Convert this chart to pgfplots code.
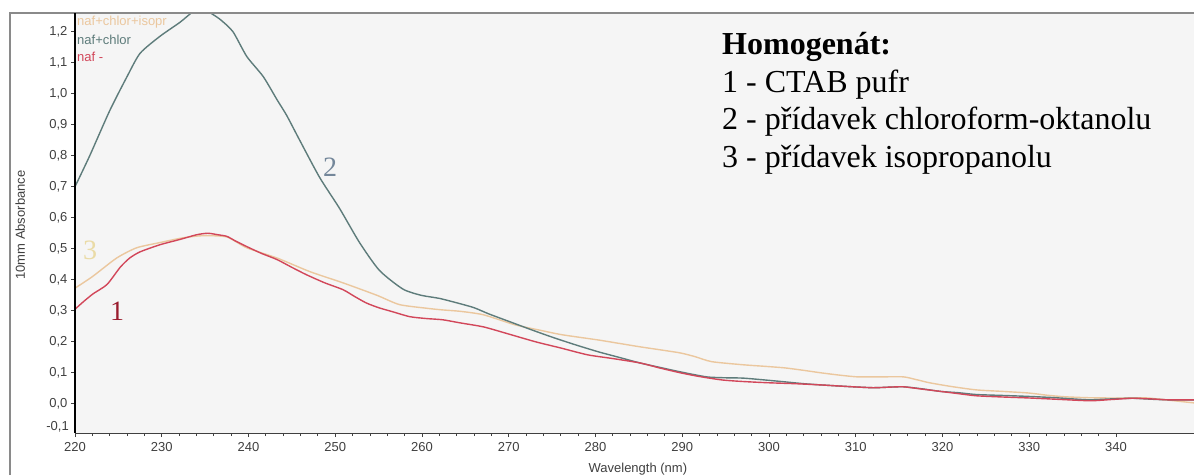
\documentclass[border=0pt]{standalone}
\usepackage{fontspec}
\setmainfont{Liberation Serif}
\setsansfont{Liberation Sans}
\usepackage{pgfplots}
\pgfplotsset{compat=1.18}
\definecolor{plotbg}{HTML}{F5F5F5}
\definecolor{cteal}{HTML}{5E7C7B}
\definecolor{cred}{HTML}{D2475A}
\definecolor{ctan}{HTML}{EBC79E}
\definecolor{ctick}{HTML}{404040}
\definecolor{cframe}{HTML}{8A8A8A}
\definecolor{lab1}{HTML}{9A1C2E}
\definecolor{lab2}{HTML}{74879A}
\definecolor{lab3}{HTML}{EADBA6}
\begin{document}
\begin{tikzpicture}
\useasboundingbox (0,0) rectangle (1194pt,475pt);
\fill[white] (0,0) rectangle (1194pt,475pt);
\begin{axis}[
  at={(75pt,42pt)}, anchor=south west,
  scale only axis, width=1119pt, height=420pt,
  xmin=220, xmax=349, ymin=-0.094, ymax=1.26,
  axis background/.style={fill=plotbg},
  axis x line*=bottom, axis y line*=left,
  x axis line style={draw=ctick, line width=1pt, -},
  y axis line style={draw=black, line width=2pt, -},
  clip mode=individual,
  xtick={220,230,240,250,260,270,280,290,300,310,320,330,340},
  minor x tick num=4,
  ytick={0,0.1,0.2,0.3,0.4,0.5,0.6,0.7,0.8,0.9,1.0,1.1,1.2},
  tick align=outside,
  major tick length=4pt, minor tick length=3pt,
  tick style={draw=ctick, line width=0.8pt},
  ticklabel style={font=\fontsize{13}{15}\selectfont\sffamily, text=ctick},
  /pgf/number format/assume math mode=true,
  yticklabel style={/pgf/number format/.cd, fixed, fixed zerofill, precision=1, use comma},
  xticklabel style={yshift=-2pt, /pgf/number format/.cd, fixed, precision=0, 1000 sep={}},
  xlabel={Wavelength (nm)},
  ylabel={10mm Absorbance},
  every axis x label/.style={at={(axis description cs:0.503,-0.086)}, anchor=center, font=\fontsize{13}{15}\selectfont\sffamily, text=ctick},
  every axis y label/.style={at={(axis description cs:-0.049,0.495)}, rotate=90, anchor=center, font=\fontsize{13}{15}\selectfont\sffamily, text=ctick},
]
% curve 3: naf+chlor+isopr
\addplot[ctan, line width=1.4pt, smooth, tension=0.4] table {
220 0.373
222 0.41
224.8 0.47
227.1 0.503
229.8 0.52
232.4 0.535
234.7 0.542
237.5 0.538
239.8 0.503
243.3 0.47
247.1 0.426
250.9 0.39
254.8 0.35
257.4 0.32
260.6 0.308
262.3 0.303
264.5 0.298
267.1 0.287
270.7 0.255
273.5 0.238
276.1 0.223
280.3 0.206
282.7 0.195
285.1 0.184
287.5 0.174
289.8 0.164
291.5 0.152
293.4 0.136
297 0.126
299.5 0.121
301.8 0.116
304 0.108
306 0.10
308 0.093
310.2 0.087
313 0.087
315.5 0.087
317 0.078
318.5 0.068
321 0.056
323.9 0.045
327 0.04
329.9 0.035
332 0.028
334 0.023
336.5 0.02
338.9 0.019
341 0.019
343.6 0.019
346 0.012
349 0.003
};
% curve 2: naf+chlor
\addplot[cteal, line width=1.4pt, smooth, tension=0.4] table {
220 0.70
221.7 0.80
224 0.945
226 1.055
227.5 1.13
229.8 1.185
232.1 1.23
233.5 1.262
234.5 1.275
235.5 1.262
236.7 1.24
238.2 1.20
239.8 1.12
241.7 1.055
243.3 0.98
244.4 0.93
245.9 0.85
248.2 0.73
250.5 0.63
252.8 0.52
255.1 0.43
257.8 0.37
259.9 0.35
262 0.34
264.1 0.325
266 0.31
267.7 0.29
270.1 0.265
272.5 0.24
274.8 0.217
277.5 0.192
280.3 0.168
282.7 0.15
285.1 0.132
287.5 0.117
289.8 0.103
292.8 0.087
295 0.084
297 0.083
299.5 0.077
301.8 0.071
304 0.065
306 0.061
309 0.056
312 0.052
314 0.054
315.5 0.055
317.5 0.049
319.8 0.04
321.8 0.036
323.9 0.03
327 0.027
329.9 0.024
332.9 0.02
335 0.016
337 0.013
339.5 0.016
341.9 0.018
344 0.015
346 0.013
349 0.013
};
% curve 1: naf -
\addplot[cred, line width=1.4pt, smooth, tension=0.4] table {
220 0.305
221 0.33
222.1 0.355
223.7 0.385
225.2 0.44
226.3 0.47
227.5 0.49
229.8 0.513
232.1 0.53
234 0.545
235.3 0.55
236.5 0.545
237.5 0.54
238.5 0.525
239.8 0.507
241.5 0.485
243.3 0.465
245 0.44
246.7 0.416
248.8 0.39
250.9 0.368
252.3 0.345
253.6 0.325
255 0.31
256.6 0.297
258.6 0.281
260.5 0.275
262.4 0.271
264.4 0.261
267.1 0.248
270 0.225
273.1 0.20
276 0.18
279.1 0.158
282 0.146
285.1 0.132
287.5 0.115
289.8 0.10
292 0.088
294.6 0.077
297 0.072
299.9 0.068
303 0.065
306 0.061
309 0.056
312 0.052
314 0.054
315.5 0.055
317.5 0.048
319.8 0.04
321.8 0.033
323.9 0.026
327 0.022
329.9 0.019
333 0.015
337 0.01
339.5 0.014
341.9 0.018
344 0.016
346 0.013
349 0.013
};
\end{axis}
% outer frame
\draw[cframe, line width=1.2pt] (10pt,0) -- (10pt,462pt) -- (1194pt,462pt);
\draw[black, line width=2pt] (75pt,42pt) -- (75pt,462pt);
% -0,1 label
\node[anchor=east, font=\fontsize{13}{15}\selectfont\sffamily, text=ctick, inner sep=0pt] at (69pt,48pt) {-0,1};
% small legend
\node[anchor=west, font=\fontsize{13}{15}\selectfont\sffamily, text=ctan, inner sep=0pt] at (77pt,453pt) {naf+chlor+isopr};
\node[anchor=west, font=\fontsize{13}{15}\selectfont\sffamily, text=cteal, inner sep=0pt] at (77pt,435pt) {naf+chlor};
\node[anchor=west, font=\fontsize{13}{15}\selectfont\sffamily, text=cred, inner sep=0pt] at (77pt,418pt) {naf -};
% curve numbers
\node[font=\fontsize{28}{30}\selectfont, text=lab2] at (330pt,308pt) {2};
\node[font=\fontsize{28}{30}\selectfont, text=lab3] at (90pt,225pt) {3};
\node[font=\fontsize{28}{30}\selectfont, text=lab1] at (117pt,164pt) {1};
% big legend
\begin{scope}[every node/.style={anchor=base west, inner sep=0pt, font=\fontsize{32}{37}\selectfont}]
\node at (722pt,420pt) {\textbf{Homogenát:}};
\node at (722pt,382pt) {1 - CTAB pufr};
\node at (722pt,345pt) {2 - přídavek chloroform-oktanolu};
\node at (722pt,308pt) {3 - přídavek isopropanolu};
\end{scope}
\end{tikzpicture}
\end{document}
